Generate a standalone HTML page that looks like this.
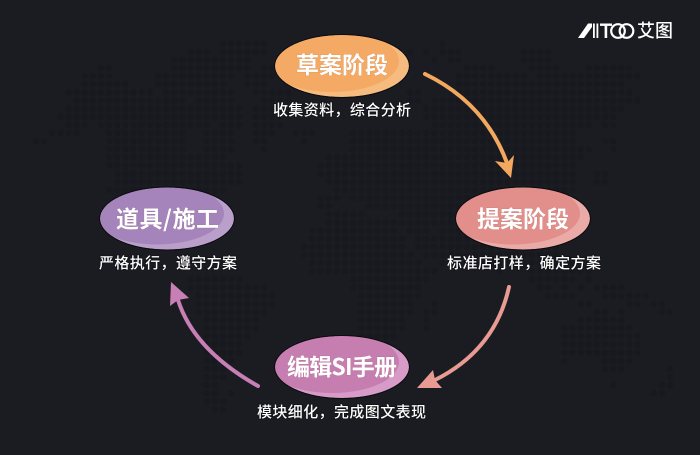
<!DOCTYPE html>
<html lang="zh">
<head>
<meta charset="utf-8">
<style>
html,body{margin:0;padding:0;background:#1b1c22;width:700px;height:455px;overflow:hidden}
svg{display:block}
text{font-family:"Liberation Sans","Noto Sans CJK SC",sans-serif;fill:#fff}
.t{font-family:"Noto Sans CJK SC","Liberation Sans",sans-serif;font-size:23px;font-weight:700;text-anchor:start;stroke:#7a5a50;stroke-opacity:.25;stroke-width:.6px;paint-order:stroke}
.s{font-size:15px;font-weight:500;paint-order:stroke;stroke:#0c0c10;stroke-width:1.4px;stroke-opacity:.7}
</style>
</head>
<body>
<svg width="700" height="455" viewBox="0 0 700 455" xmlns="http://www.w3.org/2000/svg">
<defs>
<clipPath id="c"><ellipse cx="0" cy="0" rx="67" ry="31"/></clipPath>
</defs>
<rect width="700" height="455" fill="#1b1c22"/>
<g transform="translate(36 43.6) scale(8.13)" fill="none" stroke="#18191e" stroke-width=".8" stroke-linecap="round" stroke-dasharray="0 1">
<path d="M23 0H28.01M50 0h.01
M19 1H21.01M23 1H28.01M46 1h.01M48 1h.01M50 1H52.01M60 1H63.01
M17 2H26.01M49 2h.01M51 2H52.01M60 2H63.01
M8 3H9.01M17 3H26.01M28 3H31.01M53 3H56.01M61 3H64.01M68 3H73.01
M6 4H9.01M15 4H24.01M26 4H29.01M52 4H60.01M62 4H74.01
M6 5H11.01M15 5H23.01M26 5H28.01M52 5H72.01
M4 6H14.01M16 6H24.01M27 6H31.01M46 6H47.01M52 6H73.01
M5 7H18.01M20 7H24.01M28 7H31.01M46 7H47.01M49 7H74.01
M4 8H25.01M27 8H30.01M48 8H72.01
M3 9H25.01M27 9H30.01M48 9H71.01
M4 10H6.01M8 10H21.01M23 10H25.01M27 10H30.01M49 10H68.01M70 10H71.01
M2 11H5.01M9 11H18.01M21 11H24.01M27 11H29.01M32 11H34.01M39 11H66.01
M0 12H1.01M9 12H18.01M21 12H24.01M27 12H28.01M33 12h.01M39 12H66.01M70 12H71.01
M9 13H18.01M21 13H24.01M28 13h.01M39 13H68.01M71 13h.01
M9 14H23.01M36 14H67.01
M9 15H25.01M35 15H66.01
M10 16H25.01M35 16H66.01M69 16H70.01
M10 17H25.01M36 17H66.01M69 17H70.01
M9 18H23.01M37 18H66.01
M35 19H37.01M39 19H64.01
M35 20H36.01M41 20H63.01
M36 21H40.01M45 21H62.01
M36 22H62.01
M34 23H44.01M46 23H48.01M50 23H64.01
M34 24H45.01M47 24H64.01
M33 25H45.01M47 25H64.01
M33 26H46.01M48 26H64.01
M34 27H47.01M50 27H66.01
M34 28H49.01M57 28h.01M61 28H68.01
M19 29H25.01M39 29H48.01M61 29H66.01M68 29h.01
M19 30H28.01M39 30H47.01M62 30H63.01M65 30h.01M67 30h.01M69 30H72.01
M20 31H29.01M40 31H47.01M63 31H66.01M70 31H75.01
M20 32H29.01M40 32H46.01M49 32h.01M67 32H68.01M73 32H74.01M76 32H77.01
M20 33H28.01M40 33H46.01M48 33H49.01M69 33H70.01M72 33h.01M77 33H78.01
M21 34H27.01M40 34H45.01M48 34h.01M67 34H72.01
M21 35H27.01M40 35H45.01M48 35h.01M65 35H73.01
M21 36H26.01M40 36H44.01M65 36H74.01
M21 37H25.01M41 37H43.01M65 37H74.01
M21 38H25.01M65 38H74.01
M21 39H24.01M65 39h.01M70 39H73.01
M21 40H23.01M70 40H72.01M78 40h.01
M21 41H23.01M78 41h.01
M21 42H22.01M71 42h.01M77 42H78.01
M21 43H22.01M24 43h.01M76 43H77.01
M21 44H23.01
M22 45H23.01"/>
</g>

<!-- logo -->
<g fill="#fff">
<polygon points="578,38 588,23.5 592,23.5 592,27 584,38"/>
<rect x="593" y="23.5" width="1.8" height="14.5"/>
<rect x="596.5" y="23.5" width="1.8" height="14.5"/>
<rect x="600" y="23.5" width="12" height="2.4"/>
<rect x="604.6" y="23.5" width="2.6" height="14.5"/>
</g>
<g fill="none" stroke="#fff" stroke-width="2.2">
<circle cx="618" cy="31" r="6.8"/>
<circle cx="626.5" cy="31" r="6.8"/>
</g>
<text x="637" y="37" style="font-size:18px;font-weight:500">艾图</text>

<!-- arrows -->
<g fill="none" stroke-linecap="round" stroke-width="4">
<path d="M425 74Q485 103 507 163" stroke="#f3a85f"/>
<path d="M509 287Q495 350 435 380" stroke="#e99a92"/>
<path d="M258 386Q194 350 178 300" stroke="#c77fb5"/>
</g>
<polygon points="511,178 495,161 507,163 514,155" fill="#f3a85f"/>
<polygon points="417,388 433,370 435,380 442,388" fill="#e99a92"/>
<polygon points="171,282 170,306 178,300 189,298" fill="#c77fb5"/>

<!-- nodes -->
<g transform="translate(342 66)">
<ellipse rx="67" ry="31" fill="#f6bb7f"/>
<g clip-path="url(#c)"><ellipse cx="-10" cy="-5" rx="67" ry="31" fill="#f4a964"/></g>
<ellipse rx="67.5" ry="31.5" fill="none" stroke="#0c0c10" stroke-width="1"/>
</g>
<g transform="translate(523 218.5)">
<ellipse rx="67" ry="31" fill="#eaaaa7"/>
<g clip-path="url(#c)"><ellipse cx="-10" cy="-5" rx="67" ry="31" fill="#e28e8a"/></g>
<ellipse rx="67.5" ry="31.5" fill="none" stroke="#0c0c10" stroke-width="1"/>
</g>
<g transform="translate(167 218.5)">
<ellipse rx="67" ry="31" fill="#bb9fcb"/>
<g clip-path="url(#c)"><ellipse cx="-10" cy="-5" rx="67" ry="31" fill="#a584bb"/></g>
<ellipse rx="67.5" ry="31.5" fill="none" stroke="#0c0c10" stroke-width="1"/>
</g>
<g transform="translate(342 367)">
<ellipse rx="67" ry="31" fill="#d69bc7"/>
<g clip-path="url(#c)"><ellipse cx="-10" cy="-5" rx="67" ry="31" fill="#c67db0"/></g>
<ellipse rx="67.5" ry="31.5" fill="none" stroke="#0c0c10" stroke-width="1"/>
</g>

<!-- titles -->
<text class="t" x="296" y="73" textLength="92" lengthAdjust="spacing">草案阶段</text>
<text class="t" x="477" y="227" textLength="92" lengthAdjust="spacing">提案阶段</text>
<text class="t" x="116" y="227" textLength="103" lengthAdjust="spacing">道具/施工</text>
<text class="t" x="287" y="375" textLength="110" lengthAdjust="spacing">编辑SI手册</text>

<!-- subtitles -->
<text class="s" x="273" y="115" textLength="138" lengthAdjust="spacing">收集资料&#xFF0C;综合分析</text>
<text class="s" x="447" y="268" textLength="154" lengthAdjust="spacing">标准店打样&#xFF0C;确定方案</text>
<text class="s" x="99" y="268" textLength="138" lengthAdjust="spacing">严格执行&#xFF0C;遵守方案</text>
<text class="s" x="257" y="417" textLength="169" lengthAdjust="spacing">模块细化&#xFF0C;完成图文表现</text>
</svg>
</body>
</html>
